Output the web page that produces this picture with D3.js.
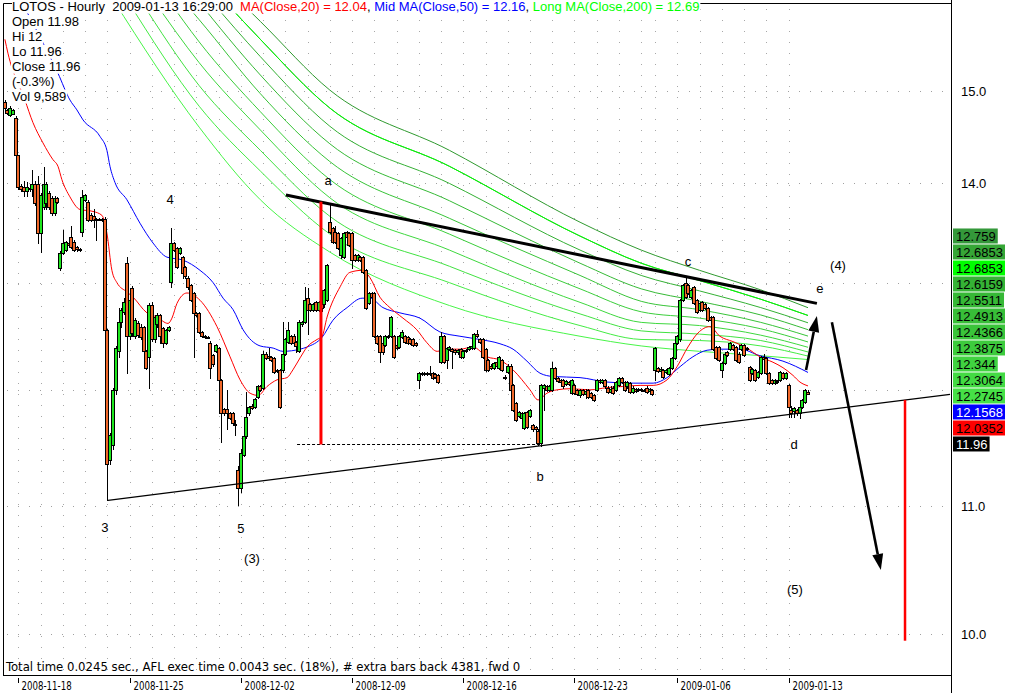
<!DOCTYPE html>
<html><head><meta charset="utf-8">
<script src="https://cdn.jsdelivr.net/npm/d3@7"></script>
<style>
body{margin:0;background:#fff;}
svg{display:block;font-family:"Liberation Sans",Arial,sans-serif;}
</style></head><body>
<svg id="chart" width="1012" height="693"></svg>
<script>
// ---------------- DATA ----------------
const opens=[14.88,14.79,14.73,14.75,14.70,14.30,13.97,13.96,13.92,13.95,13.94,13.99,13.99,13.49,13.76,13.80,13.90,13.85,13.69,13.85,
13.14,13.29,13.32,13.39,13.45,13.40,13.35,13.33,13.50,13.83,13.81,13.67,13.66,13.63,13.63,13.63,13.63,12.55,11.39,11.52,
12.00,12.35,12.62,12.72,13.19,12.49,12.95,12.49,12.61,12.58,12.58,12.35,12.30,12.78,12.46,12.60,12.69,12.57,12.43,12.55,
13.01,13.39,13.34,13.29,13.25,13.15,13.05,12.98,12.90,12.71,12.71,12.53,12.49,12.48,12.43,12.32,12.35,12.38,12.09,11.83,
11.83,11.79,11.79,11.70,11.30,11.15,11.43,11.59,11.79,11.86,11.85,11.94,12.03,12.02,12.33,12.31,12.30,12.29,12.18,12.18,
12.18,12.33,12.44,12.49,12.49,12.44,12.35,12.60,12.62,12.85,12.79,12.74,12.81,12.74,12.81,12.79,12.83,13.60,13.54,13.50,
13.49,13.27,13.25,13.50,13.49,13.49,13.27,13.22,13.25,13.25,13.12,12.80,12.90,12.90,12.49,12.49,12.43,12.41,12.49,12.49,
12.49,12.41,12.39,12.48,12.49,12.48,12.46,12.46,12.43,12.09,12.15,12.14,12.15,12.14,12.15,12.14,12.13,12.25,12.49,12.27,
12.37,12.37,12.36,12.34,12.37,12.30,12.36,12.37,12.38,12.38,12.51,12.46,12.46,12.37,12.27,12.22,12.20,12.25,12.20,12.27,
12.12,12.16,12.22,12.04,11.88,11.77,11.75,11.66,11.80,11.77,11.69,11.67,11.64,11.53,12.02,12.03,12.00,12.00,12.20,12.11,
12.09,12.09,12.05,12.07,11.97,12.04,12.00,11.95,12.00,11.96,12.00,11.97,11.95,12.00,12.09,12.07,12.09,12.02,11.98,12.02,
12.00,12.04,12.11,12.07,12.03,12.06,11.98,12.01,12.00,12.01,12.00,12.02,11.99,12.00,12.18,12.20,12.17,12.18,12.16,12.14,
12.20,12.29,12.43,12.46,12.83,13.00,12.98,12.86,12.96,12.83,12.74,12.81,12.79,12.76,12.67,12.67,12.39,12.39,12.18,12.24,
12.34,12.37,12.41,12.39,12.33,12.37,12.41,12.38,12.21,12.15,12.18,12.12,12.15,12.30,12.29,12.15,12.09,12.06,12.08,12.09,
12.15,12.11,12.04,11.82,11.81,11.82,11.79,11.85,11.89,11.98];
const highs=[14.90,14.80,14.83,14.80,14.72,14.30,13.99,14.02,14.01,13.98,14.14,14.02,14.08,13.90,14.17,14.01,13.92,13.87,13.87,13.86,
13.31,13.52,13.41,13.40,13.56,13.42,13.36,13.34,13.93,13.89,13.83,13.69,13.73,13.64,13.64,13.64,13.65,12.56,11.62,12.02,
12.40,12.76,12.76,12.85,13.25,12.86,12.97,12.66,12.63,12.60,12.59,12.36,12.80,12.81,12.69,12.71,12.70,12.58,12.56,12.59,
13.54,13.40,13.35,13.35,13.26,13.16,13.06,12.99,12.91,12.72,12.72,12.54,12.50,12.49,12.45,12.33,12.42,12.39,12.10,11.84,
12.00,11.80,11.80,11.73,11.34,11.48,11.60,11.98,11.86,11.87,11.93,12.04,12.04,12.35,12.34,12.38,12.31,12.30,12.19,12.19,
12.62,12.47,12.62,12.50,12.51,12.45,12.64,12.63,12.96,12.95,12.80,12.80,12.82,12.82,12.82,12.94,13.18,13.80,13.55,13.56,
13.50,13.45,13.50,13.51,13.50,13.50,13.28,13.28,13.26,13.26,13.13,12.91,12.91,12.91,12.50,12.50,12.44,12.50,12.50,12.68,
12.50,12.42,12.50,12.55,12.50,12.49,12.47,12.47,12.44,12.16,12.16,12.16,12.16,12.22,12.16,12.15,12.14,12.53,12.50,12.39,
12.40,12.38,12.37,12.37,12.38,12.36,12.37,12.40,12.41,12.52,12.55,12.47,12.47,12.38,12.28,12.23,12.25,12.26,12.31,12.28,
12.13,12.23,12.23,12.05,11.89,11.81,11.80,11.80,11.81,11.83,11.70,11.68,11.65,12.05,12.05,12.04,12.04,12.25,12.21,12.12,
12.10,12.10,12.09,12.08,12.10,12.05,12.01,12.01,12.01,12.01,12.01,11.98,11.96,12.10,12.10,12.10,12.10,12.03,12.03,12.03,
12.08,12.12,12.12,12.08,12.08,12.07,12.03,12.02,12.02,12.02,12.01,12.03,12.02,12.01,12.39,12.21,12.21,12.19,12.19,12.21,
12.30,12.44,12.50,12.84,12.99,13.05,12.99,12.94,12.97,12.84,12.81,12.82,12.80,12.77,12.68,12.68,12.40,12.40,12.25,12.34,
12.35,12.44,12.42,12.40,12.34,12.42,12.42,12.39,12.22,12.20,12.19,12.17,12.31,12.33,12.30,12.16,12.10,12.10,12.09,12.17,
12.16,12.16,12.05,11.86,11.85,11.83,11.86,11.92,12.01,12.00];
const lows=[14.79,14.75,14.72,14.74,14.28,13.94,13.92,13.87,13.87,13.92,13.87,13.78,13.39,13.30,13.74,13.74,13.73,13.67,13.67,13.80,
13.12,13.28,13.31,13.36,13.34,13.31,13.31,13.31,13.46,13.82,13.61,13.61,13.55,13.42,13.62,13.61,12.53,11.05,11.35,11.48,
11.96,12.30,12.58,12.70,12.15,12.46,12.49,12.47,12.48,12.46,12.33,12.19,12.02,12.45,12.44,12.58,12.43,12.39,12.42,12.54,
12.96,13.31,13.14,13.28,13.05,13.05,12.94,12.82,12.30,12.68,12.52,12.48,12.47,12.47,12.11,12.22,12.34,12.08,11.54,11.78,
11.65,11.74,11.70,11.60,11.01,11.12,11.42,11.58,11.78,11.83,11.84,11.93,11.99,12.01,12.28,12.28,12.26,12.15,12.16,11.84,
12.16,12.32,12.43,12.42,12.40,12.34,12.34,12.59,12.61,12.51,12.73,12.73,12.73,12.73,12.73,12.77,12.82,13.49,13.39,13.39,
13.33,13.24,13.24,13.44,13.36,13.14,13.21,13.21,13.21,13.09,12.75,12.79,12.85,12.48,12.42,12.25,12.33,12.40,12.47,12.48,
12.29,12.37,12.38,12.47,12.43,12.42,12.42,12.40,12.40,12.02,12.13,12.13,12.13,12.13,12.10,12.11,12.06,12.24,12.24,12.20,
12.36,12.20,12.33,12.33,12.29,12.29,12.34,12.36,12.37,12.37,12.48,12.43,12.29,12.17,12.17,12.19,12.19,12.21,12.19,12.17,
12.10,12.15,11.99,11.81,11.72,11.76,11.74,11.65,11.66,11.76,11.64,11.64,11.52,11.51,11.82,11.99,11.99,11.99,12.10,12.07,
12.06,12.02,12.04,12.04,11.96,11.96,11.95,11.94,11.95,11.93,11.93,11.93,11.90,11.99,12.06,12.06,12.02,11.97,11.97,11.96,
11.99,12.03,12.06,11.99,12.02,11.97,11.97,11.98,11.99,11.99,11.99,11.97,11.98,11.95,12.09,12.16,12.16,12.11,12.15,12.13,
12.19,12.28,12.42,12.45,12.82,12.85,12.89,12.85,12.79,12.71,12.73,12.73,12.75,12.63,12.63,12.36,12.28,12.26,12.12,12.23,
12.31,12.36,12.36,12.26,12.24,12.36,12.31,12.36,12.08,12.14,12.08,12.11,12.14,12.27,12.14,12.05,12.05,12.05,12.06,12.08,
12.10,12.10,11.76,11.76,11.76,11.78,11.75,11.84,11.88,11.96];
const closes=[14.81,14.76,14.81,14.79,14.30,13.96,13.94,13.92,13.96,13.94,13.99,13.80,13.49,13.88,13.99,13.99,13.76,13.69,13.85,13.81,
13.29,13.39,13.40,13.37,13.35,13.32,13.33,13.32,13.86,13.88,13.62,13.62,13.62,13.62,13.63,13.62,12.55,11.35,11.60,12.00,
12.38,12.62,12.74,12.81,12.49,12.83,12.52,12.64,12.50,12.48,12.35,12.20,12.78,12.46,12.67,12.69,12.49,12.43,12.55,12.58,
13.39,13.32,13.15,13.34,13.09,13.06,12.96,12.83,12.71,12.69,12.53,12.49,12.48,12.48,12.20,12.23,12.41,12.09,11.79,11.79,
11.79,11.75,11.71,11.70,11.15,11.45,11.59,11.76,11.85,11.84,11.92,12.03,12.00,12.33,12.29,12.29,12.27,12.16,12.17,11.85,
12.33,12.46,12.55,12.43,12.43,12.40,12.62,12.62,12.83,12.74,12.74,12.79,12.74,12.81,12.76,12.93,13.17,13.50,13.40,13.40,
13.34,13.44,13.49,13.45,13.37,13.22,13.22,13.27,13.22,13.10,12.76,12.90,12.86,12.49,12.43,12.34,12.34,12.49,12.48,12.67,
12.30,12.38,12.49,12.53,12.44,12.43,12.43,12.41,12.41,12.15,12.14,12.15,12.14,12.15,12.11,12.12,12.07,12.49,12.25,12.38,
12.39,12.35,12.34,12.36,12.30,12.35,12.35,12.39,12.40,12.51,12.49,12.44,12.30,12.18,12.18,12.20,12.24,12.22,12.30,12.18,
12.11,12.22,12.00,11.82,11.73,11.80,11.79,11.79,11.67,11.82,11.65,11.65,11.53,12.04,12.04,12.00,12.03,12.20,12.11,12.08,
12.07,12.03,12.08,12.05,12.09,11.97,11.96,12.00,11.96,11.99,11.94,11.94,11.91,12.09,12.07,12.09,12.03,11.98,12.01,11.97,
12.07,12.11,12.07,12.00,12.07,11.98,12.02,11.99,12.01,12.00,12.00,11.98,12.01,11.96,12.38,12.17,12.19,12.12,12.18,12.20,
12.29,12.43,12.49,12.83,12.98,12.86,12.90,12.93,12.80,12.72,12.80,12.74,12.76,12.64,12.64,12.37,12.29,12.27,12.24,12.33,
12.32,12.43,12.37,12.27,12.25,12.41,12.32,12.37,12.09,12.19,12.09,12.16,12.30,12.28,12.15,12.06,12.06,12.09,12.07,12.16,
12.11,12.15,11.85,11.79,11.84,11.79,11.85,11.91,12.00,11.96];

// moving averages: [bar index, value]
const ma20=[[0.1,15.59],[1.2,15.43],[7.3,14.90],[10.2,14.65],[13.8,14.43],[17.4,14.25],[19.2,14.18],[20.6,14.04],[23.5,13.86],[27.1,13.73],
[31.8,13.71],[35.0,13.67],[36.8,13.49],[38.6,13.12],[40.4,13.00],[44.0,12.91],[46.2,12.86],[51.2,12.71],[54.8,12.67],[58.8,12.61],
[60.2,12.66],[62.0,12.80],[65.6,12.90],[70.3,12.83],[76.4,12.58],[81.1,12.30],[84.7,12.09],[88.3,11.97],[91.2,11.95],[94.4,12.03],
[98.0,12.09],[101.6,12.11],[103.7,12.18],[106.3,12.29],[108.8,12.39],[112.4,12.46],[114.2,12.49],[116.0,12.67],[120.7,12.96],[124.2,13.10],
[128.6,13.12],[131.4,13.05],[135.0,12.86],[138.6,12.76],[143.3,12.66],[148.3,12.55],[151.9,12.43],[155.6,12.35],[159.1,12.37],[163.8,12.37],
[168.5,12.39],[173.5,12.30],[178.2,12.27],[182.9,12.18],[189.0,12.00],[191.9,11.91],[195.1,11.97],[198.7,12.00],[203.4,12.01],[210.6,12.00],
[216.7,12.02],[222.4,12.03],[228.6,12.04],[233.3,12.04],[238.3,12.09],[241.9,12.21],[245.8,12.39],[249.4,12.52],[253.7,12.58],[257.3,12.49],
[262.0,12.44],[267.0,12.38],[271.7,12.30],[276.4,12.25],[280.0,12.20],[283.6,12.13],[286.1,12.07],[289,12.0352]];
const ma50=[[6.3,16.02],[12.7,15.62],[19.2,15.20],[23.5,14.90],[26.0,14.79],[28.2,14.68],[34.3,14.50],[36.8,14.35],[37.9,14.18],[39.7,14.01],
[44.0,13.83],[48.7,13.59],[53.4,13.39],[58.4,13.25],[64.2,13.22],[70.3,13.12],[75.0,13.00],[78.6,12.85],[82.2,12.74],[85.8,12.55],
[91.9,12.40],[96.6,12.38],[100.1,12.35],[106.3,12.37],[108.8,12.39],[114.2,12.48],[118.1,12.64],[123.2,12.76],[128.6,12.85],[131.4,12.85],
[136.1,12.76],[142.2,12.71],[149.4,12.66],[156.6,12.53],[163.8,12.49],[171.0,12.46],[178.2,12.42],[182.9,12.37],[187.9,12.26],[192.6,12.15],
[197.3,12.12],[207.0,12.11],[216.7,12.07],[226.1,12.06],[233.3,12.06],[238.3,12.11],[243.0,12.21],[247.6,12.30],[252.7,12.36],[257.3,12.37],
[264.5,12.37],[271.7,12.31],[280.0,12.26],[289,12.1568]];
// long moving-average ribbon (top to bottom at the last bar)
const ribbon1=[[84.0,16.06],[92,15.80],[117,15.01],[160,14.35],[207,13.60],[229,13.32],[250,13.12],[272,12.93],[289,12.759]];
const ribbon2=[[78.6,16.06],[92,15.59],[117,14.81],[160,14.18],[207,13.46],[229,13.19],[250,13.02],[272,12.84],[289,12.6853]];
const ribbon3=[[73.9,16.06],[92,15.39],[117,14.61],[160,14.00],[207,13.32],[229,13.07],[250,12.92],[272,12.76],[289,12.6159]];
const ribbon4=[[69.2,16.06],[92,15.18],[117,14.42],[160,13.82],[207,13.19],[229,12.94],[250,12.82],[272,12.69],[289,12.5511]];
const ribbon5=[[63.8,16.06],[70,15.82],[92,14.97],[117,14.23],[160,13.64],[207,13.07],[229,12.82],[250,12.74],[272,12.62],[289,12.4913]];
const ribbon6=[[58.8,16.06],[70,15.56],[92,14.77],[117,14.04],[160,13.48],[207,12.94],[229,12.72],[250,12.66],[272,12.56],[289,12.4366]];
const ribbon7=[[53.4,16.06],[70,15.32],[92,14.57],[117,13.85],[160,13.32],[207,12.81],[229,12.62],[250,12.59],[272,12.50],[289,12.3875]];
const ribbon8=[[48.7,16.06],[70,15.06],[92,14.35],[117,13.66],[160,13.16],[207,12.70],[229,12.54],[250,12.51],[272,12.45],[289,12.344]];
const ribbon9=[[44.0,16.06],[70,14.83],[92,14.13],[117,13.48],[160,13.00],[207,12.59],[229,12.46],[250,12.45],[272,12.40],[289,12.3064]];
const ribbon10=[[39.0,16.06],[70,14.60],[92,13.83],[117,13.30],[160,12.78],[207,12.49],[229,12.40],[250,12.35],[272,12.31],[289,12.2745]];
const ma200=ribbon2;
const ribbonColors=["#2f9a2f","#33a533","#34b034","#36ba36","#38c438","#3bce3b","#3ed83e","#41e241","#44ec44","#48f548"];

const dateTickIndex=[5,45,85,125,165,205,242,282];
const dateTickLabels=["2008-11-18","2008-11-25","2008-12-02","2008-12-09","2008-12-16","2008-12-23","2009-01-06","2009-01-13"];
// first bar of each trading session (daily vertical grid)
const dayStartIndex=[5,13,21,29,37,45,53,61,69,77,85,93,101,109,117,125,133,141,149,157,165,173,181,189,197,205,213,221,229,234,242,250,258,266,274,282];
const priceTicks=[10,11,12,13,14,15];

const lastValues=[12.759,12.6853,12.6853,12.6159,12.5511,12.4913,12.4366,12.3875,12.344,12.3064,12.2745,12.1568,12.0352,11.96];
const lastLabels=["12.759","12.6853","12.6853","12.6159","12.5511","12.4913","12.4366","12.3875","12.344","12.3064","12.2745","12.1568","12.0352","11.96"];
const lastFill=["#34983a","#36a636","#00ff00","#35b235","#36b836","#38be38","#3ac43a","#3dcb3d","#40d240","#43da43","#46e046","#0000ff","#ff0000","#000000"];
const lastText=["#000","#000","#000","#000","#000","#000","#000","#000","#000","#000","#000","#fff","#000","#fff"];

// annotations (bar index, price)
const upperTrend=[[101.2,13.88],[292.2,12.80]];
const lowerTrend=[[37.2,11.05],[340.1,11.96]];
const redTargetA=[[113.8,13.81],[113.8,11.52]];
const dashedLevel=[[105.2,11.52],[193.0,11.52]];
const redTargetB=[[323.9,11.91],[323.9,9.95]];
const arrowUp=[[288.3,12.18],[292.2,12.68]];
const arrowDown=[[297.6,12.62],[315.2,10.49]];
const waveLabels=[["a",116.4,14.03],["4",59.5,13.83],["3",36.1,10.83],["5",85.0,10.82],["(3)",89.0,10.58],["b",192.6,11.25],
["c",245.8,13.21],["d",284.0,11.52],["e",293.3,12.94],["(4)",299.8,13.17],["(5)",284.3,10.34]];

const titleParts=[["LOTOS - Hourly  2009-01-13 16:29:00  ","#000"],["MA(Close,20) = 12.04","#ff0000"],[", ","#000"],
["Mid MA(Close,50) = 12.16","#0000ff"],[", ","#000"],["Long MA(Close,200) = 12.69","#00ff00"]];
const infoLines=["Open 11.98","Hi 12","Lo 11.96","Close 11.96","(-0.3%)","Vol 9,589"];
const footerText="Total time 0.0245 sec., AFL exec time 0.0043 sec. (18%), # extra bars back 4381, fwd 0";

// ---------------- DRAW ----------------
const svg=d3.select("#chart");
const P={left:3,right:951,top:3,bottom:675};
const x=d3.scaleLinear().domain([0,289]).range([4.6,808]);
const y=d3.scaleLog().domain([10,15]).range([634,91]);
const condensed="'DejaVu Sans Condensed','Liberation Sans Narrow',sans-serif";

svg.append("rect").attr("width",1012).attr("height",693).attr("fill","#fff");
svg.append("defs").append("clipPath").attr("id","clip").append("rect")
  .attr("x",P.left).attr("y",0).attr("width",P.right-P.left).attr("height",P.bottom);
const g=svg.append("g").attr("clip-path","url(#clip)");

// dotted grid
g.selectAll("line.hg").data(priceTicks).join("line").attr("class","hg")
  .attr("x1",P.left+4).attr("x2",P.right).attr("y1",d=>Math.round(y(d))+0.5).attr("y2",d=>Math.round(y(d))+0.5)
  .attr("stroke","#a0a0a0").attr("stroke-dasharray","1,10");
g.selectAll("line.vg").data(dayStartIndex).join("line").attr("class","vg")
  .attr("x1",d=>Math.round(x(d))+0.5).attr("x2",d=>Math.round(x(d))+0.5).attr("y1",P.top+6).attr("y2",P.bottom)
  .attr("stroke","#a8a8a8").attr("stroke-dasharray","1,10");

const line=d3.line().x(d=>x(d[0])).y(d=>y(d[1])).curve(d3.curveMonotoneX);
const ribbons=[ribbon1,ribbon2,ribbon3,ribbon4,ribbon5,ribbon6,ribbon7,ribbon8,ribbon9,ribbon10];
g.selectAll("path.rib").data(ribbons).join("path").attr("class","rib")
  .attr("d",line).attr("fill","none").attr("stroke",(d,i)=>ribbonColors[i]).attr("stroke-width",1);
g.append("path").attr("d",line(ma200)).attr("fill","none").attr("stroke","#00ff00").attr("stroke-width",1);
g.append("path").attr("d",line(ma50)).attr("fill","none").attr("stroke","#0000ff").attr("stroke-width",1);
g.append("path").attr("d",line(ma20)).attr("fill","none").attr("stroke","#ff0000").attr("stroke-width",1);

// candles
const bars=opens.map((o,i)=>({i,o,h:highs[i],l:lows[i],c:closes[i]}));
const cg=g.append("g").attr("shape-rendering","crispEdges");
bars.forEach(b=>{
  const cx=Math.round(x(b.i));
  cg.append("line").attr("x1",cx+0.5).attr("x2",cx+0.5).attr("y1",Math.round(y(b.h))).attr("y2",Math.round(y(b.l))+1)
    .attr("stroke","#000");
  const top=Math.round(y(Math.max(b.o,b.c))), bot=Math.round(y(Math.min(b.o,b.c)));
  cg.append("rect").attr("x",cx-1.5).attr("y",top+0.5).attr("width",3).attr("height",Math.max(1,bot-top))
    .attr("fill",b.c>=b.o?"#1ee61e":"#f0682a").attr("stroke","#000").attr("stroke-width",1);
});

// annotations
const lin=d3.line().x(d=>x(d[0])).y(d=>y(d[1]));
g.append("path").attr("d",lin(upperTrend)).attr("stroke","#000").attr("stroke-width",3).attr("fill","none");
g.append("path").attr("d",lin(lowerTrend)).attr("stroke","#000").attr("stroke-width",1.2).attr("fill","none");
g.append("path").attr("d",lin(dashedLevel)).attr("stroke","#000").attr("stroke-width",1).attr("stroke-dasharray","3,2").attr("fill","none");
g.append("path").attr("d",lin(redTargetA)).attr("stroke","#ff0000").attr("stroke-width",3).attr("fill","none");
g.append("path").attr("d",lin(redTargetB)).attr("stroke","#ff0000").attr("stroke-width",2.5).attr("fill","none");
function arrow(pts){
  const x1=x(pts[0][0]),y1=y(pts[0][1]),x2=x(pts[1][0]),y2=y(pts[1][1]);
  const a=Math.atan2(y2-y1,x2-x1), L=16, Wd=5.5;
  const bx=x2-L*Math.cos(a), by=y2-L*Math.sin(a);
  g.append("line").attr("x1",x1).attr("y1",y1).attr("x2",bx).attr("y2",by).attr("stroke","#000").attr("stroke-width",2.6);
  g.append("path").attr("d",`M${x2},${y2}L${bx+Wd*Math.sin(a)},${by-Wd*Math.cos(a)}L${bx-Wd*Math.sin(a)},${by+Wd*Math.cos(a)}Z`)
    .attr("fill","#000");
}
arrow(arrowUp); arrow(arrowDown);

g.selectAll("text.wl").data(waveLabels).join("text").attr("class","wl")
  .attr("x",d=>x(d[1])).attr("y",d=>y(d[2])).attr("text-anchor","middle").attr("dy","0.35em")
  .attr("font-size",13).attr("fill","#000").text(d=>d[0]);

// title with opaque background
const tt=svg.append("text").attr("x",12).attr("y",10.5).attr("font-size",13).attr("xml:space","preserve").style("white-space","pre");
titleParts.forEach(p=>tt.append("tspan").attr("fill",p[1]).text(p[0]));
const tb=tt.node().getBBox();
svg.insert("rect",()=>tt.node()).attr("x",tb.x-1).attr("y",0).attr("width",tb.width+2).attr("height",tb.y+tb.height).attr("fill","#fff");
infoLines.forEach((s,k)=>{
  const t=svg.append("text").attr("x",12).attr("y",26+k*14.9).attr("font-size",13).text(s);
  const b=t.node().getBBox();
  svg.insert("rect",()=>t.node()).attr("x",b.x-1).attr("y",b.y+1).attr("width",b.width+2).attr("height",b.height-1).attr("fill","#fff");
});
svg.append("text").attr("x",6).attr("y",671).attr("font-size",13)
  .attr("font-family",condensed).text(footerText);

// frame
svg.append("path").attr("d",`M${P.left+0.5},${P.bottom+0.5}V${P.top+0.5}H12`).attr("stroke","#000").attr("fill","none");
svg.append("line").attr("x1",tb.x+tb.width+1).attr("x2",P.right).attr("y1",P.top+0.5).attr("y2",P.top+0.5).attr("stroke","#000");
svg.append("line").attr("x1",P.left).attr("x2",P.right).attr("y1",P.bottom+0.5).attr("y2",P.bottom+0.5).attr("stroke","#000");
svg.append("line").attr("x1",P.right+0.5).attr("x2",P.right+0.5).attr("y1",0).attr("y2",693).attr("stroke","#000");

// date axis (narrow labels)
const da=svg.append("g").attr("font-family",condensed).attr("font-size",12);
dateTickIndex.forEach((d,k)=>{
  const tx=Math.round(x(d))+0.5;
  da.append("line").attr("x1",tx).attr("x2",tx).attr("y1",678).attr("y2",683).attr("stroke","#000");
  da.append("text").attr("transform",`translate(${tx+3},690) scale(0.8,1)`).text(dateTickLabels[k]);
});

// last-value labels, stacked around their mean position
const n=lastValues.length, bh=16;
const cy=d3.mean(lastValues,v=>y(v));
const top0=cy-n*bh/2-5, bot0=top0+n*bh;
// price axis labels (those hidden under the value stack are not shown, as in the original)
svg.selectAll("text.pt").data(priceTicks.filter(t=>y(t)<top0-8||y(t)>bot0+8)).join("text").attr("class","pt")
  .attr("x",961).attr("y",d=>y(d)).attr("dy","0.36em").attr("font-size",13).text(d=>d3.format(".1f")(d));
lastValues.forEach((v,k)=>{
  const by=top0+k*bh;
  const t=svg.append("text").attr("x",956).attr("y",by+bh/2).attr("dy","0.36em").attr("font-size",13)
    .attr("fill",lastText[k]).text(lastLabels[k]);
  const w=t.node().getComputedTextLength();
  svg.insert("rect",()=>t.node()).attr("x",953).attr("y",by).attr("width",w+5).attr("height",bh-1).attr("fill",lastFill[k]);
});
</script>
</body></html>
